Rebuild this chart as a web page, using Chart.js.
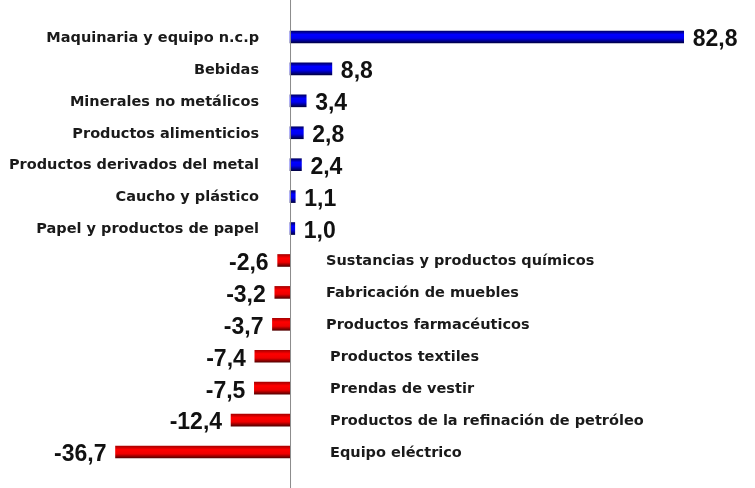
<!DOCTYPE html>
<html>
<head>
<meta charset="utf-8">
<script src="https://cdn.jsdelivr.net/npm/chart.js@4"></script>
<style>
  html, body { margin: 0; padding: 0; background: #fff; }
  #wrap { width: 755px; height: 488px; }
</style>
</head>
<body>
<div id="wrap"><canvas id="chart"></canvas></div>
<script>
const categories = [
  "Maquinaria y equipo n.c.p",
  "Bebidas",
  "Minerales no metálicos",
  "Productos alimenticios",
  "Productos derivados del metal",
  "Caucho y plástico",
  "Papel y productos de papel",
  "Sustancias y productos químicos",
  "Fabricación de muebles",
  "Productos farmacéuticos",
  "Productos textiles",
  "Prendas de vestir",
  "Productos de la refinación de petróleo",
  "Equipo eléctrico"
];
const values = [82.8, 8.8, 3.4, 2.8, 2.4, 1.1, 1.0, -2.6, -3.2, -3.7, -7.4, -7.5, -12.4, -36.7];
const valueLabels = ["82,8", "8,8", "3,4", "2,8", "2,4", "1,1", "1,0", "-2,6", "-3,2", "-3,7", "-7,4", "-7,5", "-12,4", "-36,7"];

// 3D-ish cylinder gradient per bar
function barFill(context) {
  const chart = context.chart;
  const v = values[context.dataIndex];
  const pos = v >= 0;
  if (!chart.chartArea || !chart.scales.y) return pos ? "#0000ee" : "#ee0000";
  const yc = chart.scales.y.getPixelForValue(context.dataIndex);
  const g = chart.ctx.createLinearGradient(0, yc - 6, 0, yc + 6);
  if (pos) {
    g.addColorStop(0, "#000066");
    g.addColorStop(0.3, "#0000ff");
    g.addColorStop(0.6, "#0000f0");
    g.addColorStop(1, "#000044");
  } else {
    g.addColorStop(0, "#aa0000");
    g.addColorStop(0.3, "#ff0000");
    g.addColorStop(0.65, "#ee0000");
    g.addColorStop(1, "#550000");
  }
  return g;
}

const labelsPlugin = {
  id: "sideLabels",
  afterDatasetsDraw(chart) {
    const ctx = chart.ctx;
    const xs = chart.scales.x, ys = chart.scales.y;
    const x0 = xs.getPixelForValue(0);
    ctx.save();
    // zero axis line
    ctx.strokeStyle = "#8c8c8c";
    ctx.lineWidth = 1;
    ctx.beginPath();
    ctx.moveTo(x0 + 0.5, 0);
    ctx.lineTo(x0 + 0.5, chart.height);
    ctx.stroke();

    ctx.textBaseline = "middle";
    categories.forEach((cat, i) => {
      const y = ys.getPixelForValue(i);
      const v = values[i];
      const xe = xs.getPixelForValue(v);
      ctx.fillStyle = "#1a1a1a";
      ctx.font = "bold 14.5px 'DejaVu Sans', sans-serif";
      if (v >= 0) {
        ctx.textAlign = "right";
        ctx.fillText(cat, x0 - 31, y + 1);
      } else {
        ctx.textAlign = "left";
        ctx.fillText(cat, x0 + (i < 10 ? 36 : 40), y + 1);
      }
      ctx.fillStyle = "#111";
      ctx.font = "bold 23px 'Liberation Sans', Arial, sans-serif";
      if (v >= 0) {
        ctx.textAlign = "left";
        ctx.fillText(valueLabels[i], xe + 9, y + 3);
      } else {
        ctx.textAlign = "right";
        ctx.fillText(valueLabels[i], xe - 9, y + 3);
      }
    });
    ctx.restore();
  }
};

new Chart(document.getElementById("chart"), {
  type: "bar",
  data: {
    labels: categories,
    datasets: [{
      data: values,
      backgroundColor: barFill,
      borderWidth: 0,
      barThickness: 12
    }]
  },
  options: {
    indexAxis: "y",
    responsive: true,
    maintainAspectRatio: false,
    animation: false,
    layout: { padding: { top: 21, bottom: 20, left: 0, right: 0 } },
    plugins: { legend: { display: false }, tooltip: { enabled: false } },
    scales: {
      x: { display: false, min: -61.0, max: 97.8 },
      y: { display: false }
    }
  },
  plugins: [labelsPlugin]
});
</script>
</body>
</html>
